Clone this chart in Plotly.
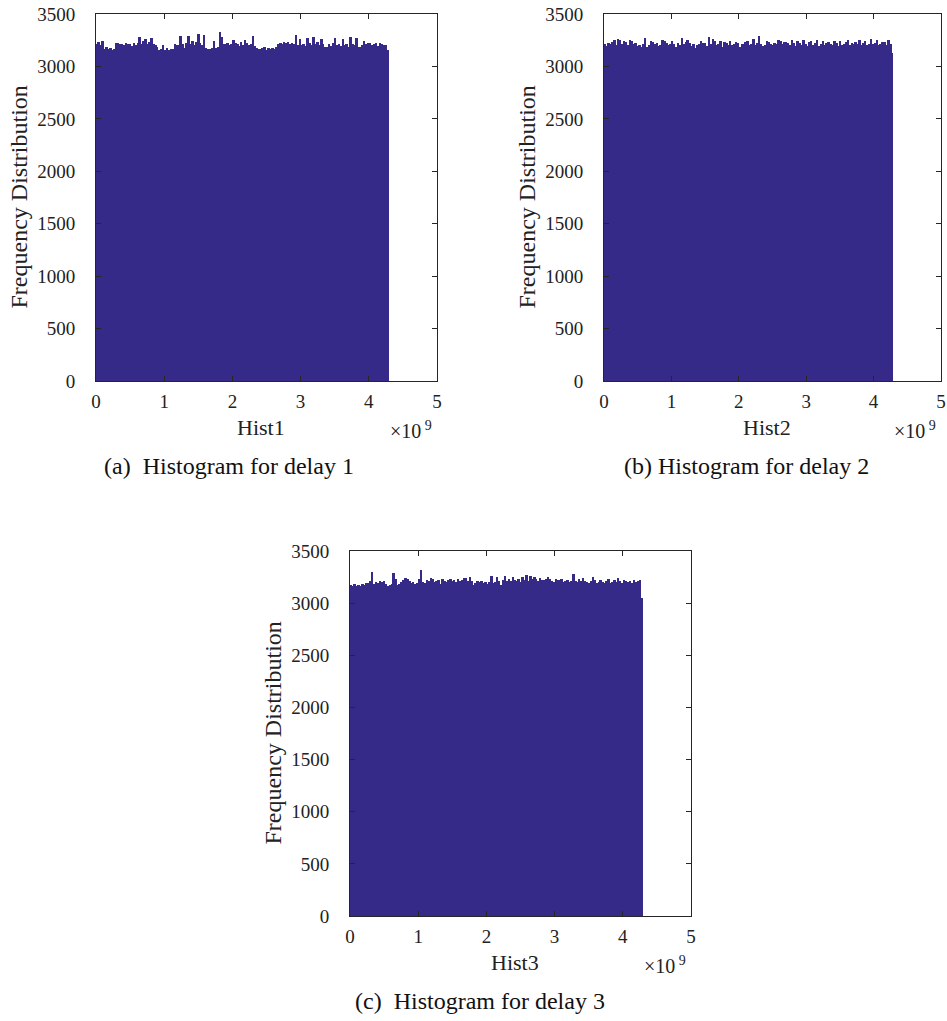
import plotly.graph_objects as go

# ---------------- data ----------------
N_BINS = 150
X_MAX = 2 ** 32  # histogram span (values up to ~4.29e9)

hist1_counts = [
    3215, 3235, 3200, 3245,
    3170, 3190, 3165, 3175, 3160, 3170,
    3225, 3220, 3210, 3215, 3200, 3225, 3210, 3215, 3195, 3225, 3205, 3220, 3280,
    3210, 3240, 3260, 3215, 3230, 3270, 3215, 3205, 3190,
    3160, 3170, 3200, 3160, 3175, 3155, 3165, 3170, 3215, 3200,
    3200, 3290, 3210, 3180, 3220, 3290, 3215, 3240, 3200, 3235, 3310, 3220,
    3200, 3300, 3180, 3170, 3165, 3175, 3240, 3175, 3185, 3330,
    3285, 3210, 3215, 3220, 3205, 3215, 3250, 3225, 3210, 3195, 3230, 3200, 3255, 3220,
    3200, 3210, 3290, 3195, 3180, 3170, 3165, 3175, 3185, 3160, 3175, 3170, 3180,
    3170, 3185, 3215, 3225, 3210, 3230, 3220, 3235, 3215, 3225, 3210, 3300,
    3200, 3260, 3205, 3215, 3195, 3270, 3220, 3200, 3285, 3215, 3230, 3200, 3265, 3210, 3190,
    3185, 3210, 3195, 3220, 3275, 3200, 3215, 3195, 3260, 3205, 3215, 3190, 3285, 3210, 3200, 3275, 3190,
    3185, 3200, 3240, 3215, 3220, 3225, 3200, 3210, 3220, 3195, 3225, 3215, 3205, 3200, 3160,
]

hist2_counts = [
    3210, 3195, 3225, 3215, 3235, 3255, 3200, 3260, 3250, 3215, 3245, 3230, 3205, 3255, 3240, 3215, 3220, 3195, 3205, 3185,
    3210, 3270, 3190, 3205, 3245, 3230, 3215, 3225, 3195, 3205, 3250, 3240, 3225, 3200, 3215, 3245, 3210, 3190, 3220, 3205,
    3275, 3210, 3230, 3255, 3225, 3195, 3215, 3180, 3200, 3210, 3240, 3220, 3225, 3195, 3280, 3215, 3260, 3245, 3200, 3210,
    3245, 3190, 3230, 3220, 3205, 3245, 3200, 3215, 3235, 3225, 3185, 3215, 3210, 3230, 3240, 3205, 3215, 3260, 3200, 3225,
    3290, 3215, 3195, 3205, 3240, 3230, 3210, 3200, 3225, 3215, 3250, 3240, 3210, 3230, 3235, 3220, 3205, 3255, 3225, 3195,
    3240, 3220, 3200, 3250, 3215, 3195, 3230, 3245, 3205, 3220, 3250, 3195, 3215, 3240, 3200, 3225, 3235, 3210, 3205, 3245,
    3220, 3195, 3240, 3205, 3215, 3230, 3250, 3200, 3225, 3210,
    3230, 3215, 3250, 3205, 3225, 3240, 3200, 3215, 3265, 3210, 3225, 3255, 3200, 3215, 3230, 3235, 3205, 3250, 3210, 3130,
]

hist3_counts = [
    3170, 3165, 3180, 3160, 3170, 3165, 3185, 3175, 3190, 3195, 3215,
    3300,
    3180, 3205, 3190, 3210, 3200, 3215, 3185, 3165, 3175, 3180,
    3285, 3230, 3175,
    3185, 3200, 3225, 3240, 3235, 3210, 3190, 3205, 3180, 3195, 3230,
    3315,
    3200, 3190, 3220, 3210, 3245, 3235, 3200, 3215, 3225, 3185, 3230, 3215, 3205, 3225,
    3235, 3215, 3225, 3200, 3230, 3210, 3220, 3240, 3245, 3215, 3250, 3210,
    3175, 3195, 3210, 3200, 3215, 3190, 3205, 3185, 3200, 3265,
    3190, 3200, 3250, 3210, 3175, 3220, 3260, 3215, 3230, 3210, 3250, 3225,
    3215, 3235, 3205, 3255, 3220, 3270, 3215, 3260, 3235, 3250, 3230, 3215, 3245, 3225, 3220, 3235, 3250,
    3230, 3215, 3205, 3230, 3220, 3225, 3235, 3205, 3215, 3225, 3200, 3210, 3280, 3210,
    3200, 3230, 3215, 3240, 3210, 3200, 3195, 3215, 3250, 3225, 3190, 3205, 3220, 3200, 3195,
    3215, 3235, 3190, 3205, 3225, 3200, 3240, 3215, 3195, 3225, 3210, 3200, 3215, 3190, 3220, 3205, 3210, 3225, 3050,
]

x_tick_vals = [0, 1e9, 2e9, 3e9, 4e9, 5e9]
x_tick_text = ["0", "1", "2", "3", "4", "5"]
y_tick_vals = [0, 500, 1000, 1500, 2000, 2500, 3000, 3500]
x_titles = ["Hist1", "Hist2", "Hist3"]
captions = ["(a)  Histogram for delay 1", "(b) Histogram for delay 2", "(c)  Histogram for delay 3"]
y_title = "Frequency Distribution"

# ---------------- layout geometry ----------------
W, H = 947, 1021
panels = [  # left, right, top, bottom in window px
    (96, 437, 14, 381),
    (604, 941, 14, 381),
    (350, 691, 551, 916),
]

BAR_COLOR = "rgb(53,42,135)"
FONT = "Liberation Serif, Times New Roman, serif"
AX_COLOR = "#262626"
TXT = "#222222"


def px_x(v):
    return v / W


def px_y(v):
    return 1 - v / H


bin_w = X_MAX / N_BINS
fig = go.Figure()
series = [hist1_counts, hist2_counts, hist3_counts]

layout_axes = {}
annotations = []
for k, (counts, (l, r, t, b)) in enumerate(zip(series, panels)):
    n = len(counts)
    centers = [(i + 0.5) * bin_w for i in range(n)]
    sfx = "" if k == 0 else str(k + 1)
    fig.add_trace(go.Bar(
        x=centers, y=counts, width=[bin_w] * n,
        marker=dict(color=BAR_COLOR, line=dict(width=0)),
        xaxis="x" + sfx, yaxis="y" + sfx, showlegend=False,
        hoverinfo="x+y",
    ))
    common = dict(
        showline=True, mirror="ticks", linecolor=AX_COLOR, linewidth=1,
        ticks="inside", ticklen=5, tickcolor=AX_COLOR, tickwidth=1,
        showgrid=False, zeroline=False, automargin=False,
        tickfont=dict(family=FONT, size=19, color=TXT),
    )
    layout_axes["xaxis" + sfx] = dict(
        domain=[px_x(l), px_x(r)], anchor="y" + sfx, range=[0, 5e9],
        tickvals=x_tick_vals, ticktext=x_tick_text, ticklabelstandoff=3, **common)
    layout_axes["yaxis" + sfx] = dict(
        domain=[px_y(b), px_y(t)], anchor="x" + sfx, range=[0, 3500],
        tickvals=y_tick_vals, ticklabelstandoff=16, **common)

    cx = (l + r) / 2
    # x axis title
    annotations.append(dict(x=px_x(cx - 6), y=px_y(b + 46), xref="paper", yref="paper",
                            text=x_titles[k], showarrow=False,
                            font=dict(family=FONT, size=22, color=TXT),
                            xanchor="center", yanchor="middle"))
    # exponent label
    annotations.append(dict(x=px_x(r - 26), y=px_y(b + 49), xref="paper", yref="paper",
                            text="×10<sup> 9</sup>", showarrow=False,
                            font=dict(family=FONT, size=20, color=TXT),
                            xanchor="center", yanchor="middle"))
    # y axis title
    annotations.append(dict(x=px_x(l - 78), y=px_y((t + b) / 2), xref="paper", yref="paper",
                            text=y_title, showarrow=False, textangle=-90,
                            font=dict(family=FONT, size=24, color=TXT),
                            xanchor="center", yanchor="middle"))
    # caption
    cap_x = cx - 38 + (12 if k == 1 else 0) - (3 if k == 2 else 0)
    annotations.append(dict(x=px_x(cap_x), y=px_y(b + 85),
                            xref="paper", yref="paper",
                            text=captions[k], showarrow=False,
                            font=dict(family=FONT, size=24, color="#111111"),
                            xanchor="center", yanchor="middle"))

fig.update_layout(
    template="none",
    width=W, height=H, margin=dict(l=0, r=0, t=0, b=0, autoexpand=False),
    paper_bgcolor="white", plot_bgcolor="white",
    bargap=0, annotations=annotations, **layout_axes,
)

# remove the page's default body margin so the figure fills the window exactly
fig.write_html(
    "out.html",
    config={"displayModeBar": False},
    post_script="document.body.style.margin='0';document.body.style.overflow='hidden';",
)
